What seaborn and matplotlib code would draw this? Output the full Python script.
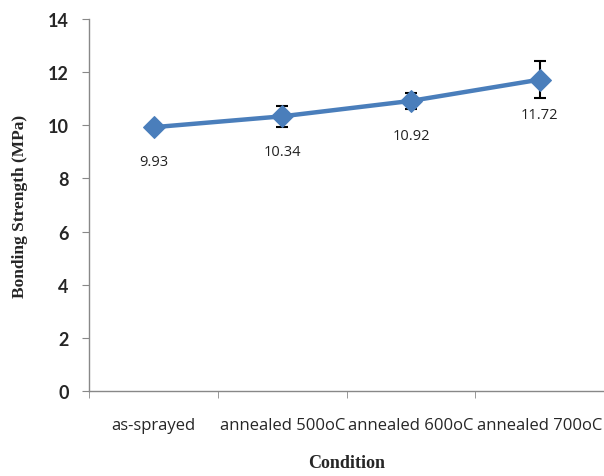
import seaborn as sns
import matplotlib.pyplot as plt
import pandas as pd
from matplotlib.ticker import FixedLocator

conditions = ['as-sprayed', 'annealed 500oC', 'annealed 600oC', 'annealed 700oC']
strength = [9.93, 10.34, 10.92, 11.72]
err = [0.0, 0.4, 0.3, 0.7]
y_ticks = [0, 2, 4, 6, 8, 10, 12, 14]

df = pd.DataFrame({'pos': range(len(conditions)), 'strength': strength, 'err': err})

sns.set_style('ticks')
plt.rcParams['font.family'] = ['Open Sans', 'DejaVu Sans']

fig = plt.figure(figsize=(6.04, 4.77), dpi=100)
ax = fig.add_axes([0.148, 0.178, 0.852, 0.78])

blue = '#4A7EBB'
ax.errorbar(df['pos'], df['strength'], yerr=df['err'], fmt='none',
            ecolor='black', elinewidth=1.5, capsize=4.5, capthick=1.5, zorder=2)
sns.lineplot(data=df, x='pos', y='strength', ax=ax, color=blue, linewidth=3.2,
             marker='D', markersize=11, markeredgecolor=blue, zorder=3)

for x, y in zip(df['pos'], df['strength']):
    ax.annotate(f'{y:.2f}', (x, y), xytext=(0, -25), textcoords='offset points',
                ha='center', va='center', fontsize=10.5, color='#222222')

ax.set_xlim(-0.5, len(conditions) - 0.5)
ax.set_ylim(0, 14)
ax.set_yticks(y_ticks)
ax.set_yticklabels([str(t) for t in y_ticks], fontsize=13, fontweight='bold',
                   family=['Lato', 'DejaVu Sans'])
ax.set_xticks(df['pos'])
ax.set_xticklabels(conditions, fontsize=12)
ax.xaxis.set_minor_locator(FixedLocator([i - 0.5 for i in range(len(conditions) + 1)]))
ax.tick_params(axis='x', which='major', length=0, pad=19)
ax.tick_params(axis='x', which='minor', length=5, color='#888888')
ax.tick_params(axis='y', length=5, color='#888888', pad=10)

ax.set_xlabel('Condition', fontsize=13, fontweight='bold', family='Liberation Serif', labelpad=15)
ax.set_ylabel('Bonding Strength (MPa)', fontsize=12.5, fontweight='bold', family='Liberation Serif', labelpad=14)

for s in ['top', 'right']:
    ax.spines[s].set_visible(False)
for s in ['left', 'bottom']:
    ax.spines[s].set_color('#888888')
    ax.spines[s].set_linewidth(1)

fig.savefig('out.png', dpi=100)
